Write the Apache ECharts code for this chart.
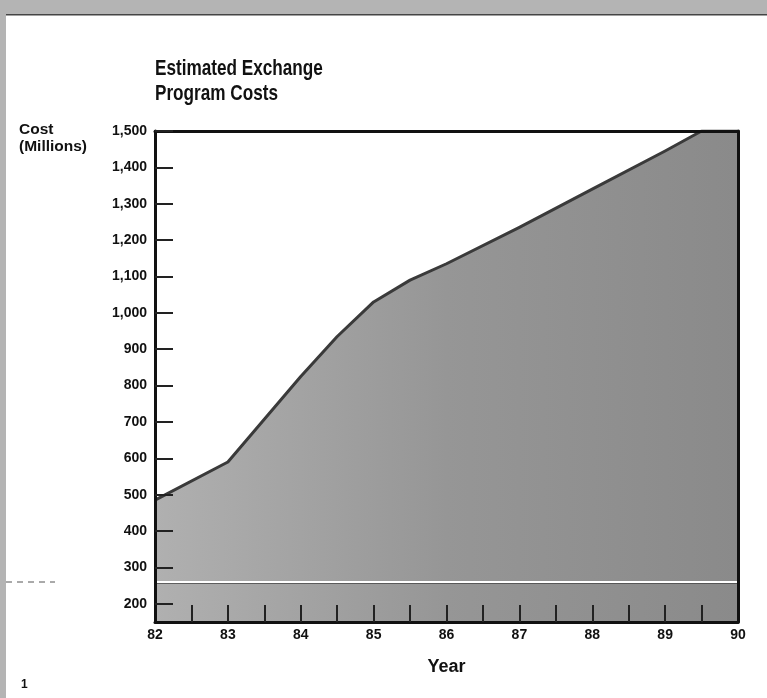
<!DOCTYPE html>
<html>
<head>
<meta charset="utf-8">
<script src="https://cdn.jsdelivr.net/npm/echarts@6/dist/echarts.min.js"></script>
<style>
html,body{margin:0;padding:0;background:#fff;}
#chart{width:767px;height:698px;}
</style>
</head>
<body>
<div id="chart"></div>
<script>
// Data
const years = [82, 83, 84, 84.5, 85, 85.5, 86, 87, 88, 89, 89.5, 90];
const costs = [485, 590, 825, 935, 1030, 1090, 1135, 1235, 1340, 1445, 1500, 1500];
const yTickValues = [200, 300, 400, 500, 600, 700, 800, 900, 1000, 1100, 1200, 1300, 1400, 1500];
const xLabelValues = [82, 83, 84, 85, 86, 87, 88, 89, 90];
const xTickValues = [82.5, 83, 83.5, 84, 84.5, 85, 85.5, 86, 86.5, 87, 87.5, 88, 88.5, 89, 89.5];
const bandRange = [150, 261];
const titleLines = ['Estimated Exchange', 'Program Costs'];
const yNameLines = ['Cost', '(Millions)'];
const xNameText = 'Year';

const chart = echarts.init(document.getElementById('chart'), null, {renderer: 'canvas'});
const seriesData = years.map((y, i) => [y, costs[i]]);
const FONT = '"Liberation Sans", Arial, Helvetica, sans-serif';

chart.setOption({
  backgroundColor: '#ffffff',
  animation: false,
  grid: {left: 155, top: 131, width: 583, height: 491, containLabel: false},
  xAxis: [
    {type: 'value', min: 82, max: 90, interval: 0.5, position: 'bottom', z: 10,
     name: xNameText, nameLocation: 'middle', nameGap: 36,
     nameTextStyle: {fontFamily: FONT, fontWeight: 'bold', fontSize: 18, color: '#111'},
     axisLine: {show: true, onZero: false, lineStyle: {color: '#111', width: 3}},
     axisTick: {show: true, inside: true, length: 17, customValues: xTickValues, lineStyle: {color: '#222', width: 2}},
     axisLabel: {customValues: xLabelValues, margin: 6, fontFamily: FONT, fontWeight: 'bold', fontSize: 14, color: '#111'},
     splitLine: {show: false}},
    {type: 'value', min: 82, max: 90, position: 'top', z: 10,
     axisLine: {show: true, onZero: false, lineStyle: {color: '#111', width: 3}},
     axisTick: {show: false}, axisLabel: {show: false}, splitLine: {show: false}}
  ],
  yAxis: [
    {type: 'value', min: 150, max: 1500, position: 'left', z: 10,
     axisLine: {show: true, onZero: false, lineStyle: {color: '#111', width: 3}},
     axisTick: {show: true, inside: true, length: 18, customValues: yTickValues, lineStyle: {color: '#222', width: 2}},
     axisLabel: {customValues: yTickValues, margin: 8, fontFamily: FONT, fontWeight: 'bold', fontSize: 14, color: '#111',
       formatter: v => v.toLocaleString('en-US')},
     splitLine: {show: false}},
    {type: 'value', min: 150, max: 1500, position: 'right', z: 10,
     axisLine: {show: true, onZero: false, lineStyle: {color: '#111', width: 3}},
     axisTick: {show: false}, axisLabel: {show: false}, splitLine: {show: false}}
  ],
  series: [{
    type: 'line',
    xAxisIndex: 0, yAxisIndex: 0,
    data: seriesData,
    smooth: false,
    symbol: 'none',
    lineStyle: {color: '#3a3a3a', width: 3, join: 'round'},
    areaStyle: {
      origin: 'start',
      opacity: 1,
      color: new echarts.graphic.LinearGradient(0, 0, 1, 0, [
        {offset: 0, color: '#b0b0b0'},
        {offset: 0.5, color: '#969696'},
        {offset: 1, color: '#8a8a8a'}
      ])
    },
    markArea: {
      silent: true,
      itemStyle: {color: 'rgba(40,40,40,0.12)'},
      data: [[{yAxis: bandRange[0]}, {yAxis: bandRange[1]}]]
    },
    markLine: {
      silent: true,
      symbol: 'none',
      label: {show: false},
      data: [
        {yAxis: bandRange[1] - 3, lineStyle: {color: '#444', width: 1.5, type: 'solid'}},
        {yAxis: bandRange[1], lineStyle: {color: '#ffffff', width: 2, type: 'solid'}}
      ]
    }
  }],
  graphic: [
    {type: 'text', x: 155, y: 56, scaleX: 0.78, z: 100,
     style: {text: titleLines.join('\n'), fontFamily: FONT, fontWeight: 'bold', fontSize: 22, lineHeight: 25, fill: '#111'}},
    {type: 'text', x: 19, y: 121, z: 100,
     style: {text: yNameLines.join('\n'), fontFamily: FONT, fontWeight: 'bold', fontSize: 15.5, lineHeight: 17, fill: '#111'}},
    {type: 'rect', x: 0, y: 0, shape: {width: 767, height: 14}, style: {fill: '#b4b4b4'}, z: 100},
    {type: 'rect', x: 0, y: 14, shape: {width: 767, height: 1.5}, style: {fill: '#444'}, z: 100},
    {type: 'rect', x: 0, y: 0, shape: {width: 6, height: 698}, style: {fill: '#b4b4b4'}, z: 100},
    {type: 'line', shape: {x1: 6, y1: 582, x2: 55, y2: 582}, style: {stroke: '#555', lineWidth: 1, lineDash: [6, 5]}, z: 100},
    {type: 'text', x: 21, y: 679, style: {text: '1', fontFamily: FONT, fontWeight: 'bold', fontSize: 12, fill: '#111'}, z: 100}
  ]
});
</script>
</body>
</html>
